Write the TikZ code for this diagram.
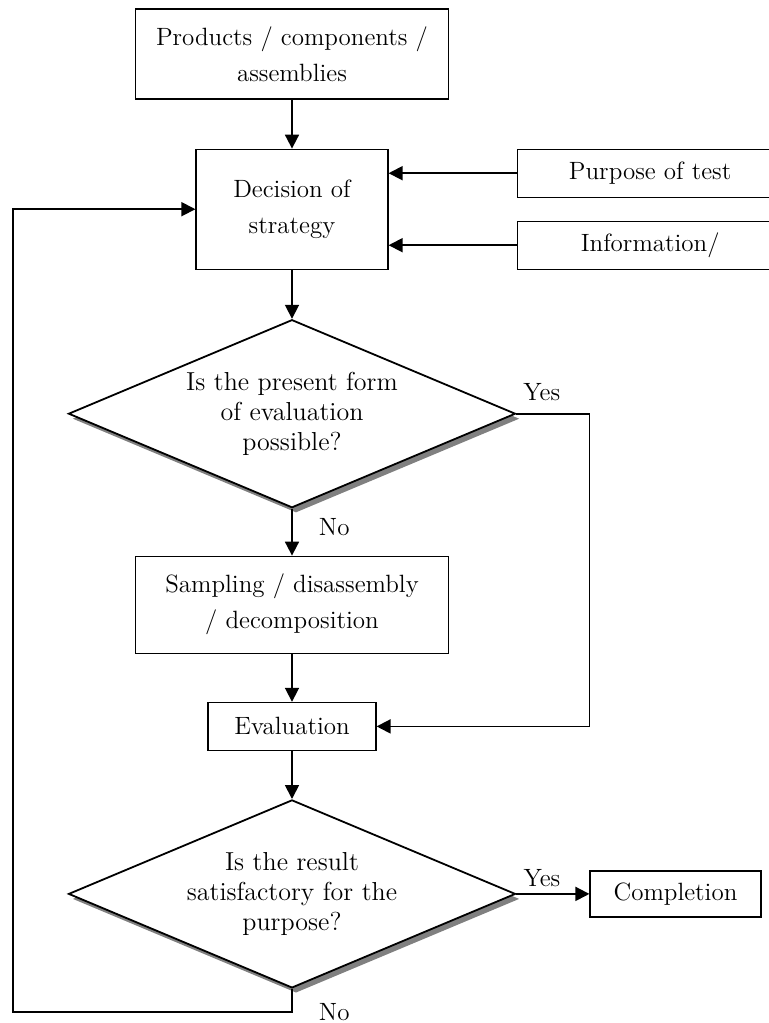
\documentclass[tikz,border=0pt]{standalone}
\usepackage{tikz}
\usetikzlibrary{arrows.meta, positioning, shapes.geometric, shadows}
\tikzset{
  stepbox/.style={
    draw=black,
    line width=0.6pt,
    align=center,
    inner sep=0pt,
    font=\fontsize{12.5}{18}\selectfont
  },
  question/.style={
    diamond,
    draw=black,
    fill=white,
    line width=0.9pt,
    aspect=2.38,
    inner sep=-3pt,
    minimum width=223.5pt,
    minimum height=94pt,
    align=center,
    font=\fontsize{13}{15}\selectfont,
    drop shadow={shadow xshift=2pt, shadow yshift=-2.5pt, fill=black!50, opacity=1}
  },
  tag/.style={
    inner sep=1pt,
    font=\fontsize{12.5}{14}\selectfont
  },
  arrow/.style={draw, line width=0.9pt, -{Triangle[length=7pt,width=7pt]}}
}
\begin{document}
\begin{tikzpicture}[x=0.5pt, y=-0.5pt, every edge/.style={arrow}]
  \clip (0,0) rectangle (769,1023);
  \node (products) [stepbox, minimum width=156.5pt, minimum height=45pt] at (292,54) {Products / components / \\ assemblies};
  \node (decision) [stepbox, minimum width=96pt, minimum height=60pt, below=24.5pt of products] {Decision of \\ strategy};
  \node (purpose) [stepbox, minimum width=133pt, minimum height=24pt, below right=0pt and 64pt of decision.north east] {Purpose of test};
  \node (info) [stepbox, minimum width=133pt, minimum height=24pt, above right=0pt and 64pt of decision.south east] {Information/};
  \node (assess) [question, below=24.5pt of decision] {Is the present form \\ of evaluation \\ possible?};
  \node (sampling) [stepbox, minimum width=156.5pt, minimum height=48.5pt, below=23.5pt of assess] {Sampling / disassembly \\ / decomposition};
  \node (evaluation) [stepbox, minimum width=84pt, minimum height=24pt, below=24pt of sampling] {Evaluation};
  \node (check) [question, below=24pt of evaluation] {Is the result \\ satisfactory for the \\ purpose?};
  \node (completion) [stepbox, minimum width=85.5pt, minimum height=23pt, right=36.5pt of check] {Completion};
  \coordinate (loop) at (13,1012);
  \path
  (products) edge (decision)
  (purpose) edge (purpose -| decision.east)
  (info) edge (info -| decision.east)
  (decision) edge (assess)
  (assess) edge node [tag, right=12pt, yshift=2.5pt] {No} (sampling)
  (sampling) edge (evaluation)
  (evaluation) edge (check)
  (check) edge node [tag, above, pos=0.35, yshift=2pt] {Yes} (completion)
  ;
  \draw [arrow] (assess.east) -- node [tag, pos=0, anchor=south west, xshift=2pt, yshift=5pt] {Yes} ++(73,0) |- (evaluation.east);
  \draw [arrow] (check.south) -- (check.south |- loop) node [tag, right=12pt] {No} -- (loop) |- (decision.west);
\end{tikzpicture}
\end{document}
